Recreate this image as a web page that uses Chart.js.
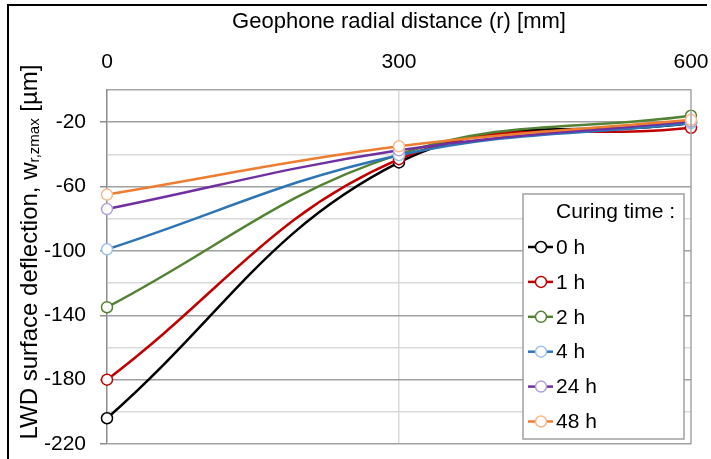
<!DOCTYPE html>
<html>
<head>
<meta charset="utf-8">
<script src="https://cdn.jsdelivr.net/npm/chart.js@4"></script>
<style>
  html, body { margin: 0; padding: 0; background: #fff; overflow: hidden; }
  canvas { display: block; }
</style>
</head>
<body>
<canvas id="graph" width="711" height="459"></canvas>
<script>
/* distances géophones (mm) et déflexions (µm) par temps de cure */
const distances = [0, 300, 600];
const cure0h  = [-204, -45, -20.5];
const cure1h  = [-180, -43, -23.5];
const cure2h  = [-135, -40, -16];
const cure4h  = [-99, -40.5, -20.5];
const cure24h = [-74, -37.5, -19.5];
const cure48h = [-65, -35, -18.5];

const libelles = ['0 h', '1 h', '2 h', '4 h', '24 h', '48 h'];
const series = [cure0h, cure1h, cure2h, cure4h, cure24h, cure48h];
const couleurs = ['#000000', '#c00000', '#548235', '#2e75b6', '#7030a0', '#ed7d31'];
const couleursPoint = ['#000000', '#c00000', '#548235', '#9dc3e6', '#b4a0d8', '#f8b98c'];

const FONT = 'Liberation Sans, Arial, sans-serif';
const TAILLE = 21;

/* cadre noir extérieur + bord droit de la zone de tracé */
const cadre = {
  id: 'cadre',
  beforeDraw(chart){
    const c = chart.ctx;
    c.save();
    c.fillStyle = '#fff'; c.fillRect(0, 0, chart.width, chart.height);
    c.strokeStyle = '#000'; c.lineWidth = 2;
    c.beginPath();
    c.moveTo(8, 460); c.lineTo(8, 5); c.lineTo(707, 5);
    c.stroke();
    c.restore();
  },
  afterDraw(chart){
    const a = chart.chartArea, c = chart.ctx;
    c.save();
    c.strokeStyle = '#a6a6a6'; c.lineWidth = 1.5;
    c.beginPath(); c.moveTo(a.right, a.top); c.lineTo(a.right, a.bottom); c.stroke();
    c.restore();
  }
};

/* titre vertical avec indice r,zmax */
const titreY = {
  id: 'titreY',
  afterDraw(chart){
    const c = chart.ctx;
    const t1 = 'LWD surface deflection, w', sub = 'r,zmax', t2 = ' [µm]';
    c.save();
    c.fillStyle = '#000';
    c.textBaseline = 'middle';
    const fN = `24px ${FONT}`, fS = `15px ${FONT}`;
    c.font = fN; const w1 = c.measureText(t1).width, w3 = c.measureText(t2).width;
    c.font = fS; const w2 = c.measureText(sub).width;
    const total = w1 + w2 + w3;
    c.translate(30, 252);
    c.rotate(-Math.PI/2);
    let x = -total/2;
    c.font = fN; c.fillText(t1, x, 0); x += w1;
    c.font = fS; c.fillText(sub, x, 5); x += w2;
    c.font = fN; c.fillText(t2, x, 0);
    c.restore();
  }
};

/* légende encadrée dans la zone de tracé */
const legende = {
  id: 'legende',
  afterDatasetsDraw(chart){
    const c = chart.ctx;
    const bx = 523, by = 194, bw = 161, bh = 245;
    c.save();
    c.fillStyle = '#fff'; c.fillRect(bx, by, bw, bh);
    c.strokeStyle = '#a0a0a0'; c.lineWidth = 1.5; c.strokeRect(bx, by, bw, bh);
    c.fillStyle = '#000'; c.textBaseline = 'middle'; c.font = `${TAILLE}px ${FONT}`;
    c.fillText('Curing time :', 556, 212);
    libelles.forEach((l, i) => {
      const y = 247 + i*34.9;
      c.strokeStyle = couleurs[i]; c.lineWidth = 2.5;
      c.beginPath(); c.moveTo(528, y); c.lineTo(553, y); c.stroke();
      c.beginPath(); c.arc(541, y, 5.5, 0, Math.PI*2);
      c.fillStyle = '#fff'; c.fill();
      c.strokeStyle = couleursPoint[i]; c.lineWidth = 1.5; c.stroke();
      c.fillStyle = '#000'; c.fillText(l, 556, y + 1);
    });
    c.restore();
  }
};

const majeur = v => Math.round(v + 220) % 40 === 0 && v < 0;

new Chart(document.getElementById('graph'), {
  type: 'line',
  data: {
    datasets: series.map((s, i) => ({
      label: libelles[i],
      data: s.map((y, k) => ({ x: distances[k], y })),
      borderColor: couleurs[i],
      borderWidth: 2.5,
      pointRadius: 5.5,
      pointBorderWidth: 1.5,
      pointBorderColor: couleursPoint[i],
      pointBackgroundColor: '#fff',
      tension: 0.4,
      clip: false,
      order: series.length - i,
    }))
  },
  options: {
    responsive: false,
    animation: false,
    layout: { padding: { left: 0, top: 0, right: 20, bottom: 15 } },
    plugins: { legend: { display: false }, tooltip: { enabled: false } },
    scales: {
      x: {
        type: 'linear', position: 'top', min: 0, max: 600,
        ticks: { stepSize: 300, color: '#000', font: { family: FONT, size: TAILLE }, padding: 15 },
        grid: {
          drawTicks: false, lineWidth: 1.5,
          color: ctx => ctx.tick && ctx.tick.value === 300 ? '#d9d9d9' : 'rgba(0,0,0,0)'
        },
        border: { display: true, color: '#a6a6a6', width: 1.5 },
        title: { display: true, text: 'Geophone radial distance (r) [mm]', color: '#000',
                 font: { family: FONT, size: 22 }, padding: { top: 9, bottom: 0 } },
        afterFit: s => { s.height = 90; s.paddingRight = 0; }
      },
      y: {
        min: -220, max: 0,
        ticks: {
          stepSize: 20, color: '#000', font: { family: FONT, size: TAILLE }, padding: 14,
          callback: v => majeur(v) ? String(v) : ''
        },
        grid: {
          tickLength: 7, lineWidth: 1.5,
          color: ctx => ctx.tick.value === 0 ? 'rgba(0,0,0,0)' : (majeur(ctx.tick.value) ? '#a0a0a0' : '#d9d9d9'),
          tickColor: ctx => majeur(ctx.tick.value) ? '#8c8c8c' : 'rgba(0,0,0,0)'
        },
        border: { display: true, color: '#8c8c8c', width: 1.5 },
        afterFit: s => { s.width = 107; s.paddingBottom = 0; s.paddingTop = 0; }
      }
    }
  },
  plugins: [cadre, titreY, legende]
});
</script>
</body>
</html>
